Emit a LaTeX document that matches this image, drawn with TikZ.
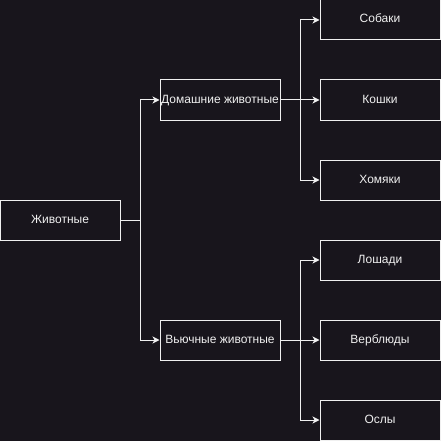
\documentclass[tikz,border=0pt]{standalone}
\usepackage{fontspec}
\setmainfont{Liberation Sans}
\usetikzlibrary{arrows.meta}
\definecolor{bg}{HTML}{18151C}
\definecolor{fg}{HTML}{F0F0F0}
\begin{document}
\begin{tikzpicture}[x=1pt,y=-1pt,
  box/.style={draw=fg,line width=1pt,minimum width=120pt,minimum height=40pt,inner sep=0pt,
    text=fg,font=\fontsize{12}{14}\selectfont,anchor=center,text height=9pt,text depth=3pt},
  arr/.style={draw=fg,line width=1pt,-{Stealth[length=7pt,width=7pt,inset=2pt]}}]
\fill[bg] (0,0) rectangle (441,441);
\useasboundingbox (0,0) rectangle (441,441);
\node[box] (root) at (60,220) {Животные};
\node[box] (dom) at (220,100) {Домашние животные};
\node[box] (vyu) at (220,340) {Вьючные животные};
\node[box] (sob) at (380,20) {Собаки};
\node[box] (kos) at (380,100) {Кошки};
\node[box] (hom) at (380,180) {Хомяки};
\node[box] (los) at (380,260) {Лошади};
\node[box] (ver) at (380,340) {Верблюды};
\node[box] (osl) at (380,420) {Ослы};
\draw[arr] (root.east) -- ++(20,0) |- (dom.west);
\draw[arr] (root.east) -- ++(20,0) |- (vyu.west);
\draw[arr] (dom.east) -- ++(20,0) |- (sob.west);
\draw[arr] (dom.east) -- (kos.west);
\draw[arr] (dom.east) -- ++(20,0) |- (hom.west);
\draw[arr] (vyu.east) -- ++(20,0) |- (los.west);
\draw[arr] (vyu.east) -- (ver.west);
\draw[arr] (vyu.east) -- ++(20,0) |- (osl.west);
\end{tikzpicture}
\end{document}
